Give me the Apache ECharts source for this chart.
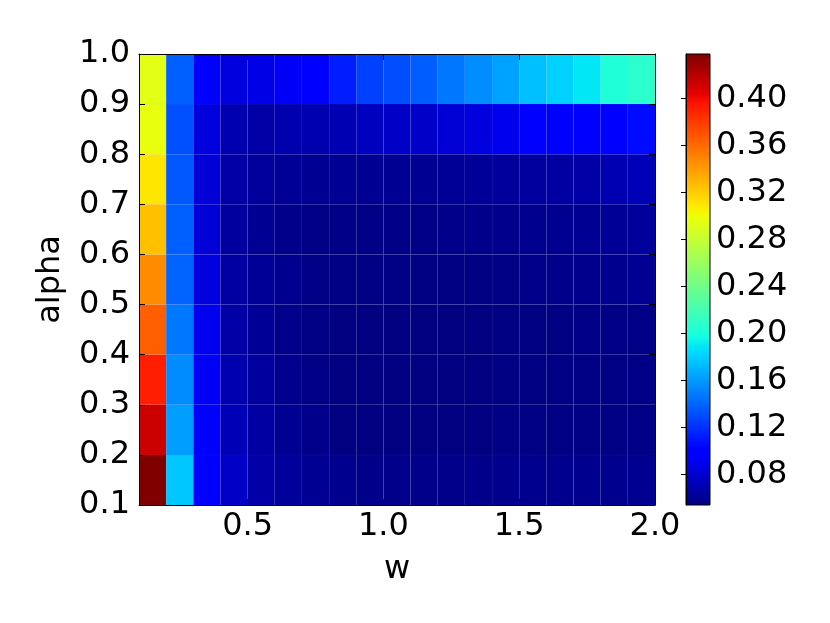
<!DOCTYPE html>
<html><head><meta charset="utf-8">
<script src="https://cdn.jsdelivr.net/npm/echarts@6/dist/echarts.min.js"></script>
<style>html,body{margin:0;padding:0;background:#fff}#c{width:830px;height:623px}</style>
</head><body><div id="c"></div>
<script>
// cell lower-left corners
const wStarts = [0.1,0.2,0.3,0.4,0.5,0.6,0.7,0.8,0.9,1.0,1.1,1.2,1.3,1.4,1.5,1.6,1.7,1.8,1.9];
const alphaStarts = [0.1,0.2,0.3,0.4,0.5,0.6,0.7,0.8,0.9];
// values, one row per alpha (bottom to top)
const row01 = [0.438,0.177,0.101,0.0776,0.067,0.063,0.0603,0.059,0.0577,0.0577,0.0577,0.0577,0.0577,0.0585,0.059,0.059,0.059,0.059,0.0595];
const row02 = [0.413,0.162,0.097,0.0723,0.0656,0.0603,0.0577,0.0545,0.0545,0.0545,0.0545,0.0545,0.0545,0.0557,0.0557,0.0557,0.0557,0.0557,0.0563];
const row03 = [0.391,0.1545,0.0935,0.0696,0.0643,0.059,0.0563,0.0545,0.054,0.054,0.054,0.054,0.054,0.055,0.0553,0.0557,0.0557,0.056,0.0563];
const row04 = [0.3647,0.147,0.0908,0.067,0.0616,0.0577,0.0557,0.0545,0.054,0.054,0.054,0.054,0.054,0.055,0.055,0.0553,0.0563,0.0563,0.0563];
const row05 = [0.3467,0.139,0.0855,0.0656,0.0616,0.059,0.0563,0.0557,0.0557,0.0557,0.055,0.055,0.055,0.0557,0.0577,0.0577,0.058,0.059,0.0603];
const row06 = [0.3255,0.138,0.083,0.0643,0.060,0.0577,0.0563,0.0563,0.0563,0.0563,0.0563,0.0577,0.0577,0.058,0.059,0.0595,0.0603,0.0616,0.063];
const row07 = [0.310,0.135,0.083,0.067,0.063,0.0616,0.060,0.060,0.060,0.060,0.060,0.0616,0.062,0.063,0.0643,0.0656,0.067,0.071,0.0723];
const row08 = [0.297,0.132,0.0855,0.0696,0.067,0.0696,0.0696,0.071,0.075,0.0776,0.078,0.082,0.0855,0.0908,0.097,0.098,0.099,0.102,0.106];
const row09 = [0.294,0.138,0.099,0.0855,0.088,0.094,0.099,0.113,0.126,0.131,0.137,0.147,0.155,0.163,0.174,0.181,0.189,0.203,0.208];
const zRows = [row01,row02,row03,row04,row05,row06,row07,row08,row09];
const xTicks = [0.5,1.0,1.5,2.0];
const yTicks = [0.1,0.2,0.3,0.4,0.5,0.6,0.7,0.8,0.9,1.0];
const cbTicks = [0.08,0.12,0.16,0.20,0.24,0.28,0.32,0.36,0.40];

const allVals = zRows.flat();
const vMin = Math.min(...allVals), vMax = Math.max(...allVals);
const dW = +(wStarts[1]-wStarts[0]).toFixed(6), dA = +(alphaStarts[1]-alphaStarts[0]).toFixed(6);
const xMax = +(wStarts[wStarts.length-1]+dW).toFixed(6), yMax = +(alphaStarts[alphaStarts.length-1]+dA).toFixed(6);

// matplotlib jet
const R=[[0,0],[0.35,0],[0.66,1],[0.89,1],[1,0.5]];
const G=[[0,0],[0.125,0],[0.375,1],[0.64,1],[0.91,0],[1,0]];
const B=[[0,0.5],[0.11,1],[0.34,1],[0.65,0],[1,0]];
function seg(s,t){for(let i=1;i<s.length;i++){if(t<=s[i][0]){const a=s[i-1],b=s[i];return a[1]+(b[1]-a[1])*(t-a[0])/(b[0]-a[0]);}}return s[s.length-1][1];}
function jet(t){const c=[seg(R,t),seg(G,t),seg(B,t)].map(v=>Math.round(Math.max(0,Math.min(1,v))*255));return 'rgb('+c.join(',')+')';}
const jetColors=[];for(let i=0;i<=200;i++)jetColors.push(jet(i/200));
const gradStops=[0,0.11,0.125,0.34,0.35,0.375,0.64,0.65,0.66,0.89,0.91,1].map(t=>({offset:t,color:jet(t)}));

const data=[];
alphaStarts.forEach((a,i)=>wStarts.forEach((w,j)=>data.push([w,a,zRows[i][j]])));

const FONT='DejaVu Sans', FS=32;
const lbl={color:'#000',fontFamily:FONT,fontSize:FS};
const axLine={show:true,lineStyle:{color:'#000',width:1}};
const tick=(vals)=>({show:true,inside:true,length:6,customValues:vals,lineStyle:{color:'#000',width:1}});

const chart=echarts.init(document.getElementById('c'),null,{renderer:'canvas'});
chart.setOption({
  animation:false,
  backgroundColor:'#fff',
  grid:[{left:139,top:54,width:516,height:451},{left:686,top:54,width:24,height:451}],
  xAxis:[
    {gridIndex:0,type:'value',min:wStarts[0],max:xMax,position:'bottom',z:5,
     axisLine:axLine,axisTick:tick(xTicks),splitLine:{show:false},
     axisLabel:Object.assign({margin:6,customValues:xTicks,formatter:v=>v.toFixed(1)},lbl),
     name:'w',nameLocation:'middle',nameGap:49,nameTextStyle:lbl},
    {gridIndex:0,type:'value',min:wStarts[0],max:xMax,position:'top',z:5,
     axisLine:axLine,axisTick:tick(xTicks),splitLine:{show:false},axisLabel:{show:false}},
    {gridIndex:1,type:'value',min:0,max:1,show:false}
  ],
  yAxis:[
    {gridIndex:0,type:'value',min:alphaStarts[0],max:yMax,position:'left',z:5,
     axisLine:axLine,axisTick:tick(yTicks),splitLine:{show:false},
     axisLabel:Object.assign({margin:9,customValues:yTicks,formatter:v=>v.toFixed(1)},lbl),
     name:'alpha',nameLocation:'middle',nameGap:72,nameTextStyle:lbl},
    {gridIndex:0,type:'value',min:alphaStarts[0],max:yMax,position:'right',z:5,
     axisLine:axLine,axisTick:tick(yTicks),splitLine:{show:false},axisLabel:{show:false}},
    {gridIndex:1,type:'value',min:vMin,max:vMax,position:'right',z:5,
     axisLine:axLine,axisTick:Object.assign(tick(cbTicks),{length:5}),splitLine:{show:false},
     axisLabel:Object.assign({margin:6,customValues:cbTicks,formatter:v=>v.toFixed(2)},lbl)}
  ],
  visualMap:{type:'continuous',show:false,min:vMin,max:vMax,dimension:2,seriesIndex:0,inRange:{color:jetColors}},
  series:[
    {type:'custom',xAxisIndex:0,yAxisIndex:0,encode:{x:0,y:1},data:data,
     renderItem:function(params,api){
       const x=api.value(0),y=api.value(1);
       const p0=api.coord([x,y+dA]),p1=api.coord([x+dW,y]);
       return {type:'rect',shape:{x:p0[0],y:p0[1],width:p1[0]-p0[0],height:p1[1]-p0[1]},
         style:{fill:api.visual('color'),stroke:'rgba(130,130,255,0.05)',lineWidth:1}};
     }},
    {type:'custom',xAxisIndex:2,yAxisIndex:2,data:[[0,vMin,1,vMax]],encode:{x:[0,2],y:[1,3]},
     renderItem:function(params,api){
       const p0=api.coord([api.value(0),api.value(3)]),p1=api.coord([api.value(2),api.value(1)]);
       return {type:'rect',shape:{x:p0[0],y:p0[1],width:p1[0]-p0[0],height:p1[1]-p0[1]},
         style:{fill:new echarts.graphic.LinearGradient(0,1,0,0,gradStops),stroke:'#000',lineWidth:1}};
     }}
  ]
});
</script></body></html>
